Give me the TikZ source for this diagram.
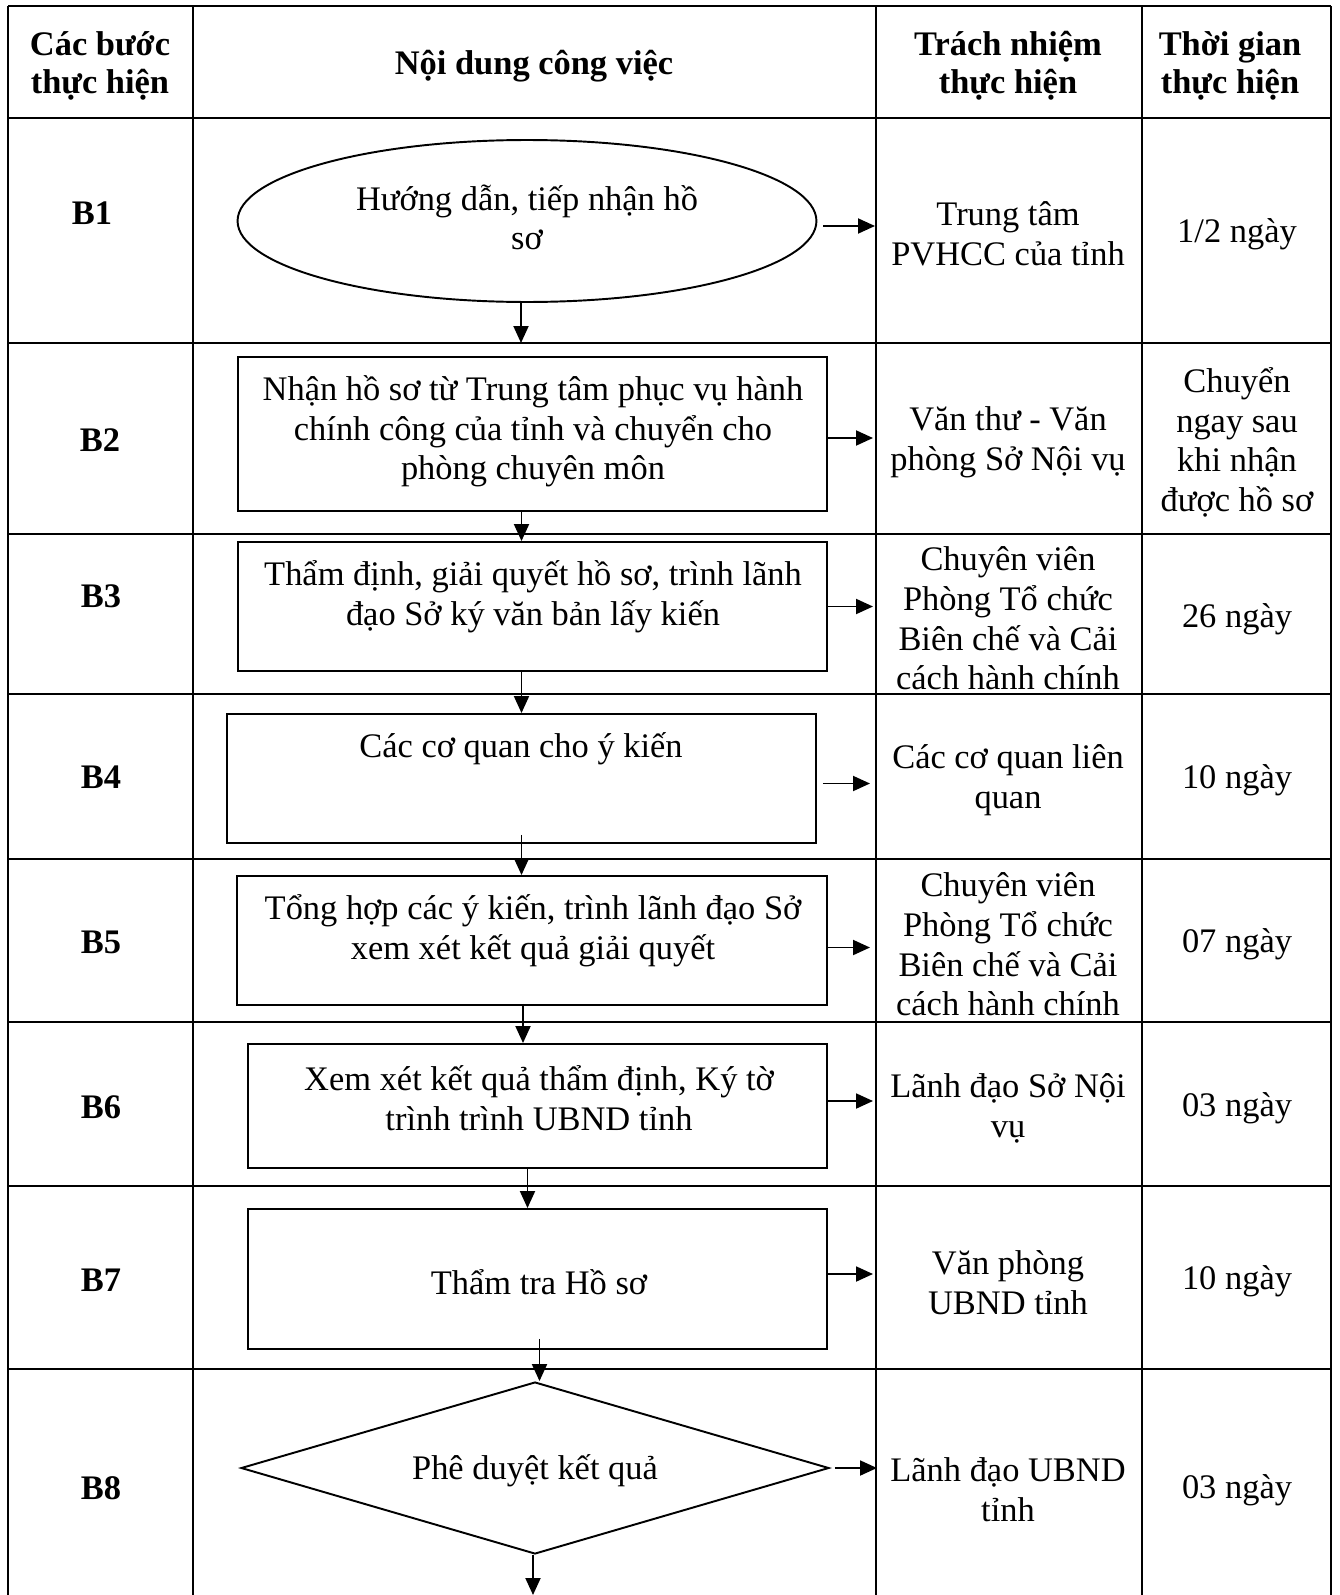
\documentclass[tikz,border=0pt]{standalone}
\usepackage{fontspec}
\setmainfont{Liberation Serif}
\usepackage{tikz}
\usetikzlibrary{shapes.geometric,arrows.meta,calc,fit}
\newcommand{\cellfont}{\fontsize{19.6}{22.6}\selectfont}
\newcommand{\headfont}{\fontsize{19.6}{21.6}\selectfont\bfseries}

\begin{document}
\begin{tikzpicture}[x=0.02cm,y=-0.02cm,
	txt/.style={font=\cellfont,align=center,inner sep=0,yshift=-0.05cm},
	hd/.style={font=\headfont,align=center,inner sep=0},
	box/.style={draw,line width=1.1pt,inner sep=0},
	grid/.style={line width=0.9pt},
	arr/.style={-{Triangle[length=0.34cm,width=0.3cm]},line width=1.1pt}]
	\useasboundingbox (0,0) rectangle (1339,1595);
	% table
	\coordinate (bot) at (0,1595);
	\coordinate (c3) at (875,0);
	\foreach \y [count=\i] in {6,118,343,534,694,859,1022,1186,1369}
		\coordinate (h\i) at (8,\y);
	\foreach \i in {1,...,9}
		\draw[grid] (h\i) -- ++(1323,0);
	\foreach \x in {8,193,876,1142,1331}
		\draw[grid] (\x,6) -- (\x,1595);
	% header
	\node[hd] (h1t) at (100,66) {Các bước\\thực hiện};
	\node[hd] (h2t) at (534,66) {Nội dung công việc};
	\node[hd] (h3t) at (1008,66) {Trách nhiệm\\thực hiện};
	\node[hd] (h4t) at (1230,66) {Thời gian\\thực hiện};
	% steps
	\node[hd] (b1) at (92,213) {B1};
	\node[hd] (b2) at (100,440) {B2};
	\node[hd] (b3) at (101,596) {B3};
	\node[hd] (b4) at (101,777) {B4};
	\node[hd] (b5) at (101,942) {B5};
	\node[hd] (b6) at (101,1107) {B6};
	\node[hd] (b7) at (101,1280) {B7};
	\node[hd] (b8) at (101,1488) {B8};
	% flow shapes
	\node[box,ellipse,minimum width=11.58cm,minimum height=3.24cm] (s1) at (527,221) {};
	\node[box,fit={(238,357) (827,511)}] (s2) {};
	\node[box,fit={(238,542) (827,671)}] (s3) {};
	\node[box,fit={(227,714) (816,843)}] (s4) {};
	\node[box,fit={(237,876) (827,1005)}] (s5) {};
	\node[box,fit={(248,1044) (827,1168)}] (s6) {};
	\node[box,fit={(248,1209) (827,1349)}] (s7) {};
	\node[box,diamond,minimum width=11.76cm,minimum height=3.44cm] (s8) at (535,1468) {};
	\node[txt] (n1) at (527,215) {Hướng dẫn, tiếp nhận hồ\\sơ};
	\node[txt] (n2) at (533,429) {Nhận hồ sơ từ Trung tâm phục vụ hành\\chính công của tỉnh và chuyển cho\\phòng chuyên môn};
	\node[txt] (n3) at (533,594) {Thẩm định, giải quyết hồ sơ, trình lãnh\\đạo Sở ký văn bản lấy kiến};
	\node[txt] (n4) at (521,746) {Các cơ quan cho ý kiến};
	\node[txt] (n5) at (533,928) {Tổng hợp các ý kiến, trình lãnh đạo Sở\\xem xét kết quả giải quyết};
	\node[txt] (n6) at (539,1096) {Xem xét kết quả thẩm định, Ký tờ\\trình trình UBND tỉnh};
	\node[txt] (n7) at (539,1280) {Thẩm tra Hồ sơ};
	\node[txt] (n8) at (535,1468) {Phê duyệt kết quả};
	% responsible
	\node[txt] (r1) at (1008,231) {Trung tâm\\PVHCC của tỉnh};
	\node[txt] (r2) at (1008,440) {Văn thư - Văn\\phòng Sở Nội vụ};
	\node[txt] (r3) at (1008,616) {Chuyên viên\\Phòng Tổ chức\\Biên chế và Cải\\cách hành chính};
	\node[txt] (r4) at (1008,778) {Các cơ quan liên\\quan};
	\node[txt] (r5) at (1008,942) {Chuyên viên\\Phòng Tổ chức\\Biên chế và Cải\\cách hành chính};
	\node[txt] (r6) at (1008,1106) {Lãnh đạo Sở Nội\\vụ};
	\node[txt] (r7) at (1008,1280) {Văn phòng\\UBND tỉnh};
	\node[txt] (r8) at (1008,1487) {Lãnh đạo UBND\\tỉnh};
	% time
	\node[txt] (t1) at (1237,232) {1/2 ngày};
	\node[txt] (t2) at (1237,440) {Chuyển\\ngay sau\\khi nhận\\được hồ sơ};
	\node[txt] (t3) at (1237,617) {26 ngày};
	\node[txt] (t4) at (1237,778) {10 ngày};
	\node[txt] (t5) at (1237,942) {07 ngày};
	\node[txt] (t6) at (1237,1106) {03 ngày};
	\node[txt] (t7) at (1237,1279) {10 ngày};
	\node[txt] (t8) at (1237,1488) {03 ngày};
	% down arrows
	\draw[arr] ($(s1.south)+(-6,0)$) coordinate (a1) -- (a1 |- h3);
	\draw[arr] ($(s2.south)+(-11,0)$) coordinate (a2) -- (a2 |- s3.north);
	\draw[arr] (s4.north |- s3.south) -- (s4.north);
	\draw[arr] ($(s4.south)+(0,-9)$) -- (s4.south |- s5.north);
	\draw[arr] ($(s5.south)+(-9,-2)$) coordinate (a5) -- (a5 |- s6.north);
	\draw[arr] ($(s6.south)+(-10,0)$) coordinate (a6) -- (a6 |- s7.north);
	\draw[arr] ($(s7.south)+(2,-11)$) coordinate (a7) -- (a7 |- s8.north);
	\draw[arr] ($(s8.south)+(-2,0)$) coordinate (a8) -- (a8 |- bot);
	% right arrows
	\draw[arr] ($(s1.east)+(6,5)$) coordinate (e1) -- (e1 -| c3);
	\draw[arr] ($(s2.east)+(0,4)$) coordinate (e2) -- ([xshift=-0.04cm]e2 -| c3);
	\draw[arr] (s3.east) -- ([xshift=-0.04cm]s3.east -| c3);
	\draw[arr] ($(s4.east)+(6,5)$) coordinate (e4) -- ([xshift=-0.1cm]e4 -| c3);
	\draw[arr] ($(s5.east)+(0,7)$) coordinate (e5) -- ([xshift=-0.1cm]e5 -| c3);
	\draw[arr] ($(s6.east)+(0,-5)$) coordinate (e6) -- ([xshift=-0.04cm]e6 -| c3);
	\draw[arr] ($(s7.east)+(0,-5)$) coordinate (e7) -- ([xshift=-0.04cm]e7 -| c3);
	\draw[arr] ($(s8.east)+(5,0)$) coordinate (e8) -- ([xshift=0.04cm]e8 -| c3);
\end{tikzpicture}
\end{document}
